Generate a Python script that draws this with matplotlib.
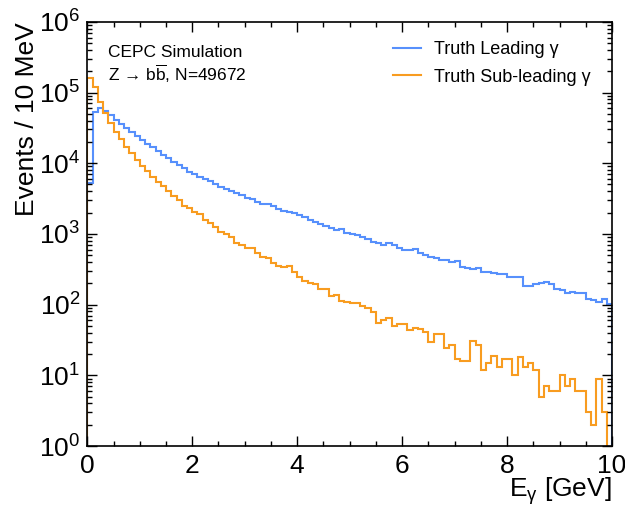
import numpy as np
import matplotlib
matplotlib.use("Agg")
import matplotlib.pyplot as plt
from matplotlib.ticker import MultipleLocator, LogLocator, NullFormatter

# Histogrammen: 100 bins van 0.1 GeV tussen 0 en 10 GeV
edges = np.linspace(0, 10, 101)

leading = [
    5200, 53300, 60700, 54500, 47800, 41500, 36450, 32000, 27800, 24400,
    21200, 18600, 16700, 14800, 13000, 11670, 10460, 9390, 8425, 7555,
    7005, 6423, 5952, 5516, 5058, 4638, 4253, 4029, 3815, 3535,
    3242, 3071, 2847, 2610, 2638, 2472, 2242, 2101, 2033, 1947,
    1825, 1709, 1567, 1484, 1376, 1289, 1221, 1132, 1169, 1038,
    994, 962, 911, 835, 774, 733, 687, 749, 702, 630,
    590, 590, 603, 529, 502, 475, 450, 426, 426, 399,
    408, 343, 325, 315, 332, 291, 285, 276, 273, 267,
    242, 248, 242, 185, 181, 195, 204, 206, 195, 169,
    160, 144, 152, 147, 144, 122, 118, 110, 120, 102,
]

subleading = [
    163000, 120300, 73800, 50500, 37250, 27800, 21650, 17050, 13730, 11050,
    9090, 7723, 6423, 5458, 4741, 4072, 3460, 3006, 2499, 2342,
    2055, 1905, 1567, 1406, 1262, 1072, 994, 891, 749, 694,
    623, 623, 529, 465, 450, 382, 350, 336, 347, 291,
    242, 218, 199, 193, 164, 169, 133, 136, 113, 110,
    107, 104, 97, 91, 79, 55, 60, 65, 50, 54,
    54, 44, 47, 45, 41, 30, 39, 39, 24, 27,
    17, 16, 16, 31, 27, 12, 15, 19, 13, 17,
    17, 10, 18, 13, 15, 12, 5, 7, 6, 6,
    10, 7, 9, 6, 6, 3, 2, 9, 3, 0,
]

labels = ["Truth Leading γ", "Truth Sub-leading γ"]
colors = ["#5790fc", "#f89c20"]

plt.rcParams["font.family"] = ["Liberation Sans", "DejaVu Sans"]
plt.rcParams["mathtext.fontset"] = "custom"
plt.rcParams["mathtext.rm"] = "Liberation Sans"
plt.rcParams["mathtext.it"] = "Liberation Sans:italic"
plt.rcParams["mathtext.bf"] = "Liberation Sans:bold"

fig = plt.figure(figsize=(6.25, 5.05), dpi=100)
ax = fig.add_axes([0.1397, 0.1168, 0.8395, 0.840])

ax.stairs(leading, edges, color=colors[0], lw=1.5, label=labels[0])
ax.stairs(subleading, edges, color=colors[1], lw=1.5, label=labels[1])

ax.set_yscale("log")
ax.set_xlim(0, 10)
ax.set_ylim(1, 1e6)

ax.xaxis.set_major_locator(MultipleLocator(2))
ax.xaxis.set_minor_locator(MultipleLocator(0.5))
ax.yaxis.set_major_locator(LogLocator(base=10, numticks=10))
ax.yaxis.set_minor_locator(LogLocator(base=10, subs=np.arange(2, 10), numticks=20))
ax.yaxis.set_minor_formatter(NullFormatter())

ax.tick_params(which="both", direction="in", top=True, right=True, width=1)
ax.tick_params(which="major", length=7.2, labelsize=19)
ax.tick_params(which="minor", length=3.6)
ax.tick_params(axis="x", which="major", pad=6)
ax.tick_params(axis="y", which="major", pad=5)
for s in ax.spines.values():
    s.set_linewidth(1.2)

ax.set_xlabel("E$_{\\mathrm{γ}}$ [GeV]", fontsize=19, loc="right", labelpad=-2)
ax.set_ylabel("Events / 10 MeV", fontsize=19, loc="top", labelpad=0)

ax.text(0.040, 0.927, "CEPC Simulation", transform=ax.transAxes,
        fontsize=12.5, va="center", ha="left")
ax.text(0.040, 0.878, "Z → b$\\overline{\\mathrm{b}}$, N=49672",
        transform=ax.transAxes, fontsize=12.5, va="center", ha="left")

ax.legend(loc="upper left", bbox_to_anchor=(0.583, 0.954), frameon=False,
          fontsize=13, handlelength=1.55, handletextpad=0.7,
          labelspacing=0.57, borderpad=0, borderaxespad=0)

plt.savefig("out.png", dpi=100)
